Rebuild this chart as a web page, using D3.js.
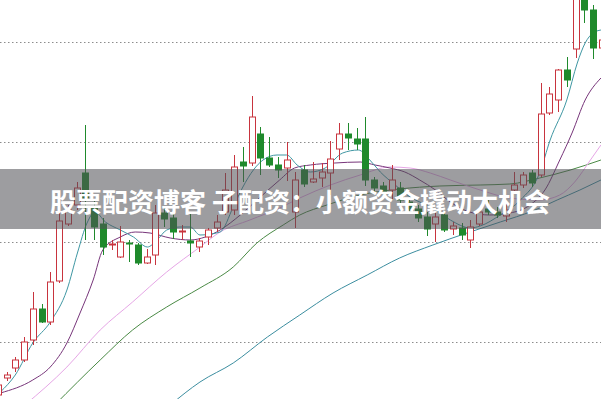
<!DOCTYPE html>
<html>
<head>
<meta charset="utf-8">
<script src="https://cdn.jsdelivr.net/npm/d3@7/dist/d3.min.js"></script>
<style>
  html, body { margin: 0; padding: 0; background: #ffffff; overflow: hidden; }
</style>
</head>
<body>
<div id="chart"></div>
<script>
"use strict";

// Bougies : open, high, low, close
var opens  = [9.47,9.64,9.74,9.82,10.02,10.33,10.20,10.61,11.18,11.37,11.69,11.34,11.18,10.97,10.85,10.99,10.97,10.79,10.87,11.29,
              11.24,11.10,11.01,10.95,11.05,11.14,11.30,11.32,11.80,11.79,12.08,11.84,11.77,11.74,11.30,11.72,11.60,11.64,11.69,11.93,
              12.08,12.03,12.03,11.62,11.56,11.52,11.54,11.40,11.33,11.25,11.18,11.27,11.13,11.14,11.02,11.18,11.33,11.30,11.26,11.52,
              11.57,11.69,11.67,12.29,12.42,12.72,12.93,13.52,13.32,12.94];
var highs  = [9.64,9.70,9.85,10.05,10.50,10.38,10.70,11.29,11.37,11.60,12.17,11.42,11.24,11.02,11.16,11.02,10.99,10.93,11.37,11.34,
              11.30,11.17,11.30,11.04,11.14,11.27,11.69,11.87,11.95,12.46,12.15,12.05,11.85,12.00,11.70,11.77,11.80,11.79,12.01,12.19,
              12.19,12.14,12.25,11.65,11.60,11.77,11.60,11.44,11.37,11.30,11.30,11.30,11.20,11.19,11.22,11.35,11.42,11.35,11.39,11.70,
              11.70,11.72,12.59,12.55,12.73,12.85,13.62,13.62,13.37,13.07];
var lows   = [9.43,9.61,9.70,9.80,9.97,10.19,10.17,10.59,11.16,11.32,11.02,11.02,10.87,10.92,10.84,10.80,10.77,10.78,10.77,11.15,
              11.03,11.02,10.85,10.90,10.97,11.10,11.27,11.27,11.60,11.76,11.67,11.75,11.64,11.61,11.14,11.55,11.59,11.55,11.47,11.82,
              11.92,11.92,11.56,11.49,11.45,11.42,11.39,11.30,11.20,11.06,11.00,11.10,11.07,11.02,10.94,11.16,11.27,11.24,11.20,11.50,
              11.54,11.55,11.65,12.27,12.30,12.55,12.84,13.19,12.83,12.92];
var closes = [9.57,9.67,9.82,10.00,10.33,10.20,10.60,11.21,11.32,11.54,11.44,11.15,10.95,10.98,11.00,10.98,10.79,10.85,11.29,11.23,
              11.10,11.11,10.99,11.01,11.12,11.20,11.52,11.75,11.76,12.25,11.84,11.77,11.72,11.82,11.62,11.58,11.63,11.70,11.83,12.08,
              12.04,11.98,11.62,11.54,11.50,11.62,11.42,11.33,11.24,11.13,11.25,11.12,11.16,11.07,11.15,11.30,11.30,11.27,11.32,11.57,
              11.67,11.59,12.28,12.48,12.72,12.62,13.52,13.32,12.94,13.02];

// Moyennes mobiles : [indice de bougie, prix]
var ma5 = [[0.3,9.50],[2.0,9.67],[4.0,9.99],[6.0,10.20],[7.9,10.52],[9.1,10.89],[10.2,11.19],[11.1,11.30],[12.3,11.20],[14.0,11.12],
           [15.5,11.05],[17.1,10.95],[18.2,11.02],[19.3,11.12],[20.8,11.15],[22.0,11.15],[23.1,11.07],[25.4,11.10],[26.9,11.35],[28.0,11.55],
           [29.2,11.72],[30.3,11.82],[31.9,11.87],[33.0,11.87],[34.2,11.77],[35.7,11.70],[37.4,11.74],[39.4,11.89],[41.2,11.92],[42.5,11.82],
           [43.7,11.70],[45.4,11.57],[47.1,11.45],[49.7,11.34],[51.7,11.22],[54.0,11.14],[55.1,11.16],[57.4,11.27],[59.7,11.42],[61.9,11.69],
           [63.1,12.02],[65.0,12.42],[66.2,12.79],[67.1,12.99],[68.0,13.09],[68.9,13.12]];
var ma10 = [[0.3,9.49],[4.0,9.62],[6.0,9.75],[7.9,9.99],[9.4,10.29],[10.9,10.62],[12.0,10.92],[14.0,11.05],[15.7,11.10],[17.4,11.09],
            [19.7,11.04],[22.0,11.02],[23.7,11.05],[25.4,11.12],[27.7,11.27],[30.0,11.45],[32.2,11.62],[33.9,11.74],[35.7,11.77],[38.5,11.79],
            [41.4,11.80],[43.1,11.77],[44.8,11.74],[46.5,11.70],[48.2,11.62],[50.0,11.52],[51.7,11.40],[53.9,11.30],[56.2,11.27],[58.5,11.29],
            [60.8,11.37],[62.5,11.52],[64.2,11.82],[65.6,12.09],[67.1,12.42],[68.9,12.64]];
var ma20 = [[3.1,9.37],[7.9,9.75],[11.7,10.12],[15.4,10.40],[19.3,10.70],[23.1,10.95],[25.4,11.10],[28.8,11.22],[32.2,11.34],[34.5,11.44],
            [38.0,11.57],[41.4,11.67],[44.8,11.75],[47.1,11.74],[49.4,11.69],[51.7,11.62],[55.1,11.52],[58.5,11.44],[61.9,11.42],[64.2,11.47],
            [65.9,11.60],[67.7,11.82],[68.9,11.97]];
var ma60 = [[6.5,9.37],[11.7,9.82],[15.4,10.12],[19.3,10.35],[23.1,10.54],[26.9,10.75],[29.6,10.99],[32.6,11.17],[34.5,11.27],[37.6,11.37],
            [41.4,11.47],[45.9,11.53],[50.5,11.56],[55.1,11.57],[58.5,11.58],[61.9,11.64],[65.4,11.72],[68.9,11.82]];
var ma120 = [[19.7,9.37],[23.1,9.60],[26.9,9.79],[30.8,10.05],[34.5,10.27],[38.3,10.49],[42.2,10.67],[45.9,10.84],[49.7,10.97],[53.6,11.09],
             [57.4,11.20],[61.1,11.31],[63.9,11.42],[66.5,11.52],[68.9,11.62]];

var gridValues = [10, 11, 12, 13];
var bannerText = "股票配资博客 子配资：小额资金撬动大机会";

// Dimensions
var larg = 601;
var haut = 399;

var svg = d3.select("#chart")
	.append("svg")
	.attr("width", larg)
	.attr("height", haut)
	.attr("viewBox", "0 0 " + larg + " " + haut);

var x = d3.scaleLinear().domain([0, 69]).range([-2.25, 601.8]);
var y = d3.scaleLinear().domain([9.42, 13.42]).range([400, 0]);

// Lignes de grille pointillées
svg.selectAll("line.grid")
	.data(gridValues)
	.enter()
	.append("line")
	.attr("class", "grid")
	.attr("x1", 0)
	.attr("x2", larg)
	.attr("y1", function(d){ return Math.round(y(d)) + 0.5; })
	.attr("y2", function(d){ return Math.round(y(d)) + 0.5; })
	.attr("stroke", "#8c8c8c")
	.attr("stroke-width", 1)
	.attr("stroke-dasharray", "1.5,2.5");

// Moyennes mobiles
var line = d3.line()
	.x(function(d){ return x(d[0]); })
	.y(function(d){ return y(d[1]); })
	.curve(d3.curveMonotoneX);

var maSeries = [
	{ data: ma120, color: "#3c8ea0" },
	{ data: ma60,  color: "#4a8a45" },
	{ data: ma20,  color: "#e6a6e6" },
	{ data: ma10,  color: "#77357a" },
	{ data: ma5,   color: "#3f97a3" }
];

svg.selectAll("path.ma")
	.data(maSeries)
	.enter()
	.append("path")
	.attr("class", "ma")
	.attr("d", function(d){ return line(d.data); })
	.attr("fill", "none")
	.attr("stroke", function(d){ return d.color; })
	.attr("stroke-width", 1);

// Bougies
var idx = d3.range(opens.length);
var rouge = "#c8343e";
var vert = "#1f8a2c";
var bw = 6;

var candles = svg.selectAll("g.candle")
	.data(idx)
	.enter()
	.append("g")
	.attr("class", "candle");

candles.append("line")
	.attr("x1", function(i){ return Math.round(x(i)) + 0.5; })
	.attr("x2", function(i){ return Math.round(x(i)) + 0.5; })
	.attr("y1", function(i){ return y(highs[i]); })
	.attr("y2", function(i){ return y(lows[i]); })
	.attr("stroke", function(i){ return closes[i] >= opens[i] ? rouge : vert; })
	.attr("stroke-width", 1);

candles.append("rect")
	.attr("x", function(i){ return Math.round(x(i)) - bw / 2 + 0.5; })
	.attr("y", function(i){ return y(Math.max(opens[i], closes[i])); })
	.attr("width", bw)
	.attr("height", function(i){ return Math.max(1, Math.abs(y(opens[i]) - y(closes[i]))); })
	.attr("fill", function(i){ return closes[i] >= opens[i] ? "#ffffff" : vert; })
	.attr("stroke", function(i){ return closes[i] >= opens[i] ? rouge : vert; })
	.attr("stroke-width", 1);

// Bandeau gris semi-transparent avec le titre
svg.append("rect")
	.attr("x", 0)
	.attr("y", 169)
	.attr("width", larg)
	.attr("height", 60)
	.attr("fill", "#505055")
	.attr("opacity", 0.56);

svg.append("text")
	.text(bannerText)
	.attr("x", 300)
	.attr("y", 200)
	.attr("text-anchor", "middle")
	.attr("dominant-baseline", "central")
	.attr("font-family", "'Noto Sans CJK SC', 'Noto Sans', sans-serif")
	.attr("font-size", "26px")
	.attr("font-weight", "bold")
	.attr("fill", "#ffffff");
</script>
</body>
</html>
